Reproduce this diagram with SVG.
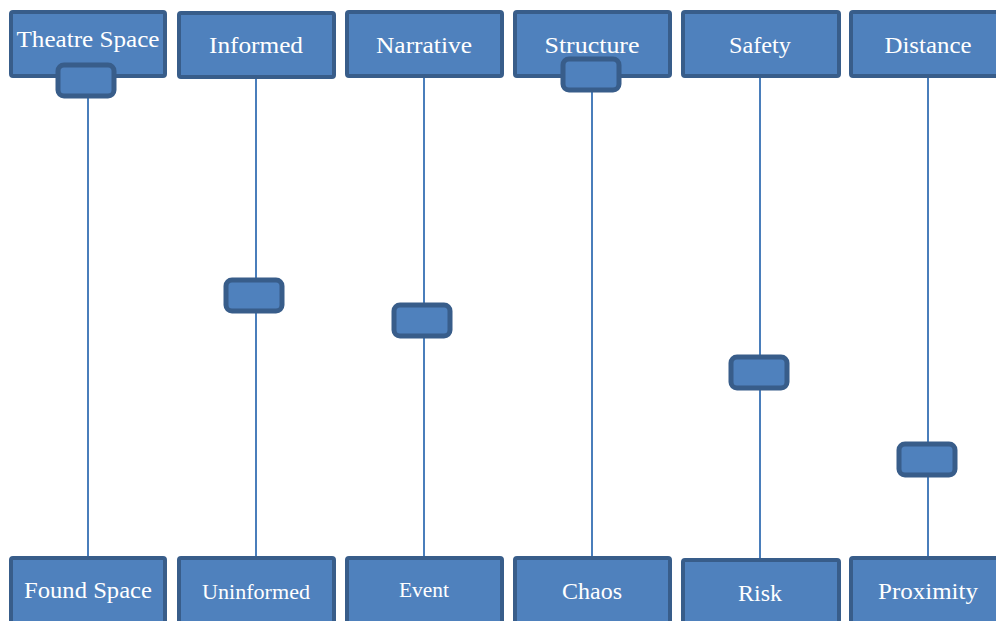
<svg xmlns="http://www.w3.org/2000/svg" width="996" height="621" viewBox="0 0 996 621">
<style>
.box{fill:#4f81bd;stroke:#385d8a;stroke-width:4}
.knob{fill:#4f81bd;stroke:#385d8a;stroke-width:5}
.ln{stroke:#4a7ebb;stroke-width:2;fill:none}
.t{font-family:"Liberation Serif","DejaVu Serif",serif;fill:#ffffff;text-anchor:middle;font-size:24px}
.s{font-size:20px}
</style>
<rect width="996" height="621" fill="#ffffff"/>
<g id="connectors">
<line class="ln" x1="88" y1="78" x2="88" y2="556"/>
<line class="ln" x1="256" y1="79" x2="256" y2="556"/>
<line class="ln" x1="424" y1="78" x2="424" y2="556"/>
<line class="ln" x1="592" y1="78" x2="592" y2="556"/>
<line class="ln" x1="760" y1="78" x2="760" y2="558"/>
<line class="ln" x1="928" y1="78" x2="928" y2="556"/>
</g>
<g id="top-theatre-space"><rect class="box" x="11" y="12" width="154" height="64" rx="2"/><text class="t" x="88" y="47" textLength="143" lengthAdjust="spacingAndGlyphs">Theatre Space</text></g>
<g id="top-informed"><rect class="box" x="179" y="13" width="155" height="64" rx="2"/><text class="t" x="256" y="53" textLength="94" lengthAdjust="spacingAndGlyphs">Informed</text></g>
<g id="top-narrative"><rect class="box" x="347" y="12" width="155" height="64" rx="2"/><text class="t" x="424" y="53" textLength="96" lengthAdjust="spacingAndGlyphs">Narrative</text></g>
<g id="top-structure"><rect class="box" x="515" y="12" width="155" height="64" rx="2"/><text class="t" x="592" y="53" textLength="95" lengthAdjust="spacingAndGlyphs">Structure</text></g>
<g id="top-safety"><rect class="box" x="683" y="12" width="156" height="64" rx="2"/><text class="t" x="760" y="53" textLength="62" lengthAdjust="spacingAndGlyphs">Safety</text></g>
<g id="top-distance"><rect class="box" x="851" y="12" width="156" height="64" rx="2"/><text class="t" x="928" y="53" textLength="87" lengthAdjust="spacingAndGlyphs">Distance</text></g>
<g id="bottom-found-space"><rect class="box" x="11" y="558" width="154" height="70" rx="2"/><text class="t" x="88" y="598" textLength="128" lengthAdjust="spacingAndGlyphs">Found Space</text></g>
<g id="bottom-uninformed"><rect class="box" x="179" y="558" width="155" height="70" rx="2"/><text class="t s" x="256" y="599" textLength="108" lengthAdjust="spacingAndGlyphs">Uninformed</text></g>
<g id="bottom-event"><rect class="box" x="347" y="558" width="155" height="70" rx="2"/><text class="t s" x="424" y="597" textLength="50" lengthAdjust="spacingAndGlyphs">Event</text></g>
<g id="bottom-chaos"><rect class="box" x="515" y="558" width="155" height="70" rx="2"/><text class="t" x="592" y="599" textLength="60" lengthAdjust="spacingAndGlyphs">Chaos</text></g>
<g id="bottom-risk"><rect class="box" x="683" y="560" width="156" height="70" rx="2"/><text class="t" x="760" y="601" textLength="44" lengthAdjust="spacingAndGlyphs">Risk</text></g>
<g id="bottom-proximity"><rect class="box" x="851" y="558" width="156" height="70" rx="2"/><text class="t" x="928" y="599" textLength="100" lengthAdjust="spacingAndGlyphs">Proximity</text></g>
<g id="slider-theatre"><rect class="knob" x="58" y="65" width="56" height="31" rx="6"/></g>
<g id="slider-informed"><rect class="knob" x="226" y="280" width="56" height="31" rx="6"/></g>
<g id="slider-narrative"><rect class="knob" x="394" y="305" width="56" height="31" rx="6"/></g>
<g id="slider-structure"><rect class="knob" x="563" y="59" width="56" height="31" rx="6"/></g>
<g id="slider-safety"><rect class="knob" x="731" y="357" width="56" height="31" rx="6"/></g>
<g id="slider-distance"><rect class="knob" x="899" y="444" width="56" height="31" rx="6"/></g>
</svg>
